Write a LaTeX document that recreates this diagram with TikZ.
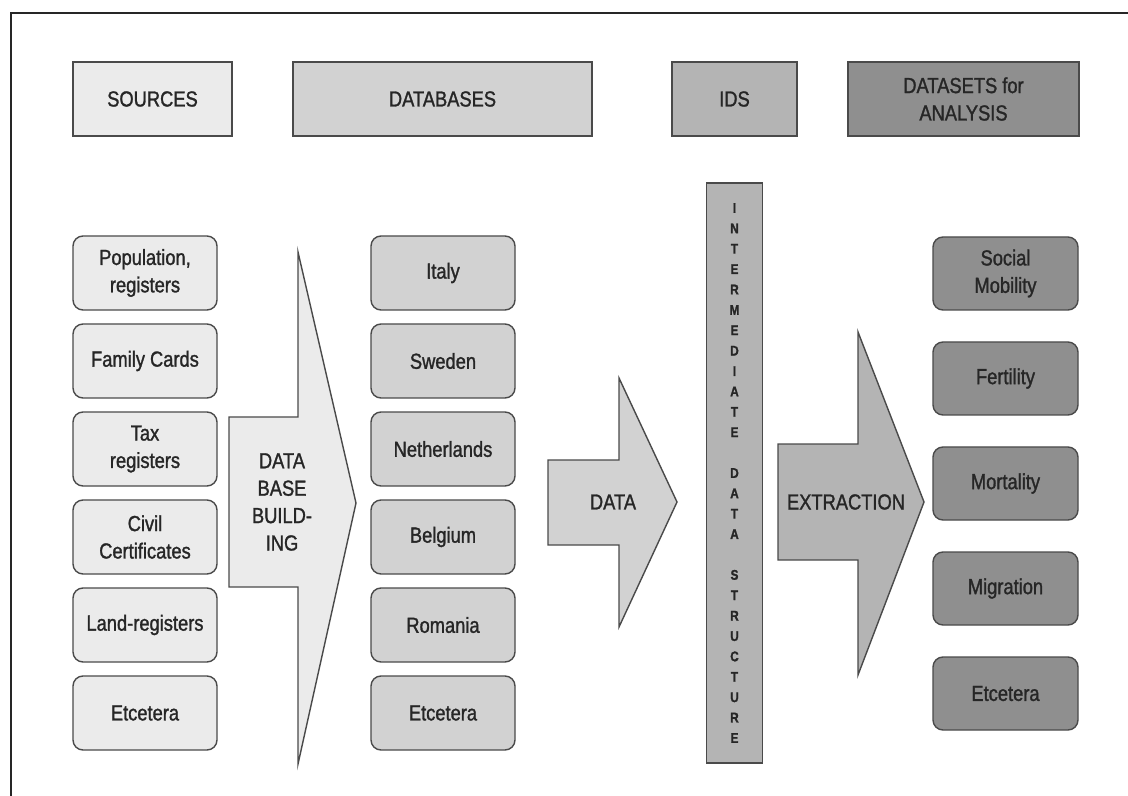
\documentclass[tikz,border=0pt]{standalone}
\usepackage{fontspec}
\setmainfont{Liberation Sans}[FakeStretch=0.84, FakeBold=1.3]
\usetikzlibrary{positioning}
\definecolor{lightfill}{HTML}{EBEBEB}
\definecolor{midfill}{HTML}{D2D2D2}
\definecolor{idsfill}{HTML}{B4B4B4}
\definecolor{darkfill}{HTML}{8F8F8F}
\definecolor{edgegray}{HTML}{4A4A4A}
\definecolor{textgray}{HTML}{262626}

\begin{document}
\begin{tikzpicture}[font=\fontsize{15.5}{19.5}\selectfont, text=textgray,
        box/.style={draw=edgegray, line width=1pt, inner sep=0pt, outer sep=0pt, align=center},
        headbox/.style={box, minimum height=1.85cm},
        colbox/.style={box, rounded corners=0.25cm, minimum width=3.6cm, minimum height=1.85cm},
        setbox/.style={box, rounded corners=0.25cm, fill=darkfill, minimum width=3.625cm, minimum height=1.825cm},
        blockarrow/.style={draw=edgegray, line width=1pt}]
        \useasboundingbox (0,0) rectangle (28.2,-19.9);
        \draw[line width=1.4pt, black!85] (28.2,-0.325) -- (0.275,-0.325) -- (0.275,-19.9);

        % headers
        \node[headbox, fill=lightfill, minimum width=3.975cm] (sources) at (3.8125,-2.475) {SOURCES};
        \node[headbox, fill=midfill, minimum width=7.475cm] (databases) [right=1.525cm of sources] {DATABASES};
        \node[headbox, fill=idsfill, minimum width=3.125cm] (ids) [right=2cm of databases] {IDS};
        \node[headbox, fill=darkfill, minimum width=5.775cm] (datasets) [right=1.275cm of ids] {DATASETS for\\ANALYSIS};

        % sources
        \node[colbox, fill=lightfill] (pop) at (3.625,-6.825) {Population,\\registers};
        \node[colbox, fill=lightfill] (fam) [below=0.35cm of pop] {Family Cards};
        \node[colbox, fill=lightfill] (tax) [below=0.35cm of fam] {Tax\\registers};
        \node[colbox, fill=lightfill] (civil) [below=0.35cm of tax] {Civil\\Certificates};
        \node[colbox, fill=lightfill] (land) [below=0.35cm of civil] {Land-registers};
        \node[colbox, fill=lightfill] (etc1) [below=0.35cm of land] {Etcetera};

        % databases
        \node[colbox, fill=midfill] (italy) [right=3.85cm of pop] {Italy};
        \node[colbox, fill=midfill] (sweden) [below=0.35cm of italy] {Sweden};
        \node[colbox, fill=midfill] (nl) [below=0.35cm of sweden] {Netherlands};
        \node[colbox, fill=midfill] (belgium) [below=0.35cm of nl] {Belgium};
        \node[colbox, fill=midfill] (romania) [below=0.35cm of belgium] {Romania};
        \node[colbox, fill=midfill] (etc2) [below=0.35cm of romania] {Etcetera};

        % intermediate data structure
        \node[box, fill=idsfill, minimum width=1.4cm, minimum height=14.5cm, font=\fontsize{10}{14.5}\selectfont\bfseries] (idsbar) [below=1.175cm of ids]
            {I\\N\\T\\E\\R\\M\\E\\D\\I\\A\\T\\E\\[14.5pt]D\\A\\T\\A\\[14.5pt]S\\T\\R\\U\\C\\T\\U\\R\\E};

        % datasets
        \node[setbox] (social) at (25.1375,-6.8375) {Social\\Mobility};
        \node[setbox] (fert) [below=0.8cm of social] {Fertility};
        \node[setbox] (mort) [below=0.8cm of fert] {Mortality};
        \node[setbox] (migr) [below=0.8cm of mort] {Migration};
        \node[setbox] (etc3) [below=0.8cm of migr] {Etcetera};

        % block arrows
        \draw[blockarrow, fill=lightfill] (5.725,-10.425) -- (7.45,-10.425) -- (7.45,-6.3) -- (8.9,-12.575) -- (7.45,-19.1) -- (7.45,-14.675) -- (5.725,-14.675) -- cycle;
        \node[align=center] (build) at (7.05,-12.55) {DATA\\BASE\\BUILD-\\ING};

        \draw[blockarrow, fill=midfill] (13.7,-11.5) -- (15.475,-11.5) -- (15.475,-9.45) -- (16.925,-12.55) -- (15.475,-15.675) -- (15.475,-13.625) -- (13.7,-13.625) -- cycle;
        \node (data) at (15.325,-12.55) {DATA};

        \draw[blockarrow, fill=idsfill] (19.45,-11.1) -- (21.45,-11.1) -- (21.45,-8.3) -- (23.1,-12.55) -- (21.45,-16.875) -- (21.45,-14.0) -- (19.45,-14.0) -- cycle;
        \node (extract) at (21.15,-12.55) {EXTRACTION};
\end{tikzpicture}
\end{document}
